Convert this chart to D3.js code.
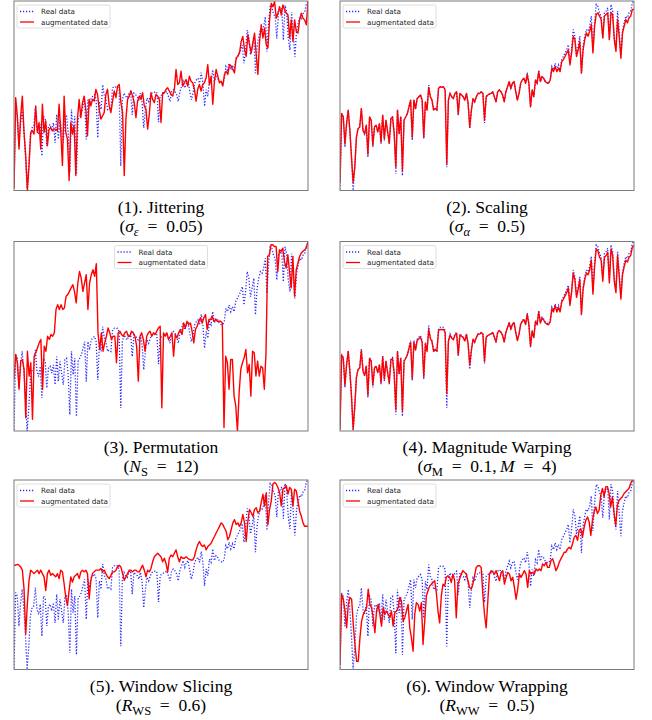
<!DOCTYPE html>
<html>
<head>
<meta charset="utf-8">
<script src="https://cdn.jsdelivr.net/npm/d3@7"></script>
<style>
  body { margin: 0; background: #fff; }
  svg { display: block; }
</style>
</head>
<body>
<svg id="chart" width="652" height="720"></svg>
<script>
'use strict';

// real series (0 = frame bottom, 100 = frame top)
var realData = [
  1.2, 40.7, 38.9, 23.2, 35.4, 42.5, 31.9, 17.9, 0.5, 12.6, 28.4, 32.8, 33.7, 43.3, 31.9, 29.3,
  34.6, 17.9, 38.9, 37.2, 23.2, 33.7, 34.6, 31.1, 35.4, 24.9, 39.8, 26.7, 37.2, 31.1, 24.9, 38.1,
  38.9, 30.2, 9.1, 42.5, 30.2, 38.9, 8.2, 37.2, 38.9, 40.7, 44.2, 47.7, 26.7, 47.7, 43.3, 48.6,
  49.5, 50.4, 47.7, 27.5, 46.8, 42.5, 55.6, 49.5, 47.7, 42.5,
  43.3, 42.5, 53.9, 54.7, 54.4, 54.7, 53.0, 12.6, 47.7, 51.2, 49.5, 48.6, 51.2, 52.1, 39.8, 51.2,
  50.4, 49.5, 47.7, 51.2, 46.0, 32.8, 42.5, 48.6, 46.8, 49.5, 51.2, 51.2, 52.1, 51.2, 35.8, 49.5,
  50.4, 50.9, 51.2, 52.1, 49.5, 46.8, 52.1, 53.0, 52.1, 50.4, 46.8, 52.1, 54.7, 57.4, 53.9, 56.5,
  57.4, 52.1, 47.7, 51.2, 56.5, 58.2, 59.1, 56.5, 62.1, 56.5, 44.2, 53.0,
  49.5, 58.2, 56.5, 63.5, 57.4, 60.0, 59.1, 57.4, 56.8, 56.5, 58.2, 65.3, 63.5, 67.0, 63.5, 66.1,
  63.5, 68.8, 70.5, 72.3, 74.0, 76.7, 67.0, 74.0, 84.6, 81.1, 71.4, 75.8, 81.1, 61.8, 75.8, 81.1,
  84.6, 83.7, 86.3, 91.6, 73.2, 88.1, 97.7, 96.8, 93.3, 91.6, 80.2, 93.3, 94.2, 96.0, 79.3, 97.7,
  94.2, 80.2, 74.0, 94.2, 82.8, 70.5, 83.7, 88.1, 91.6, 90.7, 93.3, 94.2, 98.6, 99.5
];

var jitterData = [
  0.5, 48.8, 39.1, 21.6, 39.1, 49.6, 30.4, 18.1, -0.4, 12.8, 30.4, 31.2, 29.5, 44.4, 30.4, 35.6,
  21.6, 45.3, 30.4, 36.5, 23.3, 32.1, 33.0, 31.2, 32.1, 32.1, 31.2, 45.3, 30.4, 12.8, 49.6, 30.4,
  26.8, 4.9, 35.6, 29.5, 33.9, 7.5, 37.4, 47.9, 38.2, 46.1, 49.6, 42.6, 28.6, 47.9, 44.4, 47.9,
  47.0, 53.2, 50.5, 42.6, 37.4, 39.1, 40.9, 50.5, 53.2, 44.4, 40.9, 47.0, 52.3, 48.8, 54.9, 55.8,
  46.1, 40.9, 7.5, 37.4, 47.9, 49.6, 52.3, 49.6, 46.1, 38.2, 47.0, 49.6, 47.9, 51.4, 44.4, 42.6,
  32.1, 40.0, 51.4, 47.9, 46.1, 50.5, 49.6, 47.9, 35.6, 51.4, 51.4, 53.2, 54.0, 52.3, 50.5, 49.6,
  53.2, 63.7, 55.8, 56.7, 62.8, 54.9, 56.7, 58.4, 54.9, 60.2, 57.5, 56.7, 53.2, 47.0, 53.2, 55.8,
  52.3, 55.8, 56.7, 59.3, 66.3, 55.8, 60.2, 45.3, 57.5, 63.7, 60.2, 56.7, 57.5, 54.9, 61.1, 62.8,
  61.1, 66.3, 65.4, 63.7, 61.9, 69.8, 70.7, 72.5, 78.6, 81.2, 74.2, 70.7, 82.1, 76.8, 72.5, 77.7,
  83.0, 71.6, 61.1, 78.6, 87.4, 80.4, 85.6, 76.8, 75.1, 90.0, 98.8, 97.0, 99.6, 90.9, 93.5, 97.0,
  92.6, 97.9, 95.3, 93.5, 92.6, 80.4, 90.0, 78.6, 90.0, 83.9, 83.0, 90.0, 93.5, 90.9, 90.0, 87.4,
  100
];

var scalingData = [
  4.7, 40.7, 38.9, 24.9, 35.4, 42.5, 31.9, 17.9, 4.7, 12.6, 28.4, 32.8, 33.7, 43.3, 31.9, 30.2,
  34.6, 19.6, 38.9, 37.2, 24.0, 33.7, 34.6, 31.1, 35.4, 25.8, 39.8, 27.5, 37.2, 31.1, 25.3, 38.1,
  38.9, 30.2, 12.6, 42.5, 30.2, 38.9, 10.9, 37.2, 38.9, 40.7, 44.2, 47.7, 28.4, 47.7, 43.3, 48.6,
  49.5, 50.4, 47.7, 28.4, 46.8, 42.5, 54.4, 49.5, 47.7, 42.5,
  43.3, 42.5, 53.9, 54.7, 54.4, 54.7, 53.0, 14.4, 47.7, 51.2, 49.5, 48.6, 51.2, 52.1, 40.5, 51.2,
  50.4, 49.5, 47.7, 51.2, 46.0, 33.7, 42.5, 48.6, 46.8, 49.5, 51.2, 51.2, 52.1, 51.2, 37.2, 49.5,
  50.4, 50.9, 51.2, 52.1, 49.5, 46.8, 52.1, 53.0, 52.1, 50.4, 46.8, 52.1, 54.7, 57.4, 53.9, 56.5,
  57.4, 52.1, 47.7, 51.2, 56.5, 58.2, 59.1, 56.5, 61.0, 56.5, 44.2, 53.0,
  49.5, 58.2, 56.5, 62.6, 57.4, 60.0, 59.1, 57.4, 56.8, 56.5, 58.2, 64.4, 62.6, 65.3, 62.6, 64.4,
  62.6, 67.9, 68.8, 70.5, 72.3, 74.0, 66.1, 72.3, 81.1, 79.3, 70.5, 74.0, 78.4, 61.8, 74.0, 79.3,
  82.8, 81.1, 83.7, 87.2, 72.3, 86.3, 92.5, 93.3, 91.6, 89.8, 80.2, 91.6, 92.5, 93.3, 79.3, 93.3,
  92.5, 79.3, 73.2, 89.8, 81.1, 69.6, 82.8, 86.3, 89.8, 88.1, 90.7, 91.6, 95.1, 95.1
];

var permutationData = [
  27.7, 40.9, 36.5, 22.5, 37.4, 38.2, 33.0, 7.5, 42.6, 29.5, 36.5, 6.7, 40.0, 41.8, 44.4, 47.0,
  48.8, 22.5, 45.3, 42.6, 50.5, 48.8, 51.4, 50.5, 52.3, 64.6, 67.2, 64.6, 67.2, 64.6, 65.4, 71.6,
  72.5, 74.2, 76.0, 77.7, 74.2, 68.1, 78.6, 84.7, 81.2, 74.2, 78.6, 83.0, 64.6, 78.6, 83.0, 85.6,
  82.1, 88.8,
  52.3, 43.5, 52.3, 42.6, 47.0, 50.5, 54.9, 52.3, 48.8, 50.5, 50.5, 36.5, 52.3, 53.2, 51.4, 50.5,
  52.3, 53.2, 50.5, 50.5, 53.2, 52.3, 50.5, 45.3, 26.8, 50.5, 52.3, 48.8, 42.6, 50.5, 52.3, 53.2,
  50.5, 52.3, 51.4, 53.2, 54.9, 55.8, 12.8, 52.3, 50.5, 52.3, 48.8, 50.5, 52.3, 40.0, 51.4, 49.6,
  52.3, 54.0, 51.4, 57.5, 54.9, 58.4, 56.7, 57.5, 53.2, 47.0, 54.0, 55.8, 58.4, 60.2, 57.5, 60.2,
  61.9, 54.0, 59.3, 59.3, 61.1, 58.4, 59.3, 58.4, 58.4, 58.4, 57.5,
  2.3, 40.0, 36.5, 22.5, 38.2, 38.2, 18.9, 13.7, 0.5, 20.7, 33.0, 36.5, 39.1, 43.5, 31.2, 35.6,
  18.9, 42.6, 41.8, 29.5, 37.4, 29.5, 34.7, 33.9, 22.5, 41.8,
  92.6, 93.5, 98.8, 98.8, 97.9, 97.9, 84.7, 96.1, 95.3, 97.0, 90.0, 86.5, 93.5, 84.7, 76.0, 92.6,
  71.6, 85.6, 89.1, 92.6, 94.4, 95.3, 96.1, 97.0, 100.5
];

var magWarpData = [
  1.5, 40.2, 38.5, 24.5, 35.0, 42.0, 31.8, 18.8, 1.5, 13.5, 28.6, 32.6, 33.4, 42.6, 31.7, 29.5,
  34.3, 19.5, 38.4, 36.8, 24.6, 33.4, 34.2, 31.0, 35.0, 25.8, 39.2, 27.6, 36.8, 31.0, 25.8, 37.6,
  38.4, 30.4, 11.5, 41.8, 30.6, 38.3, 10.8, 36.8, 38.4, 40.1, 43.5, 46.9, 28.0, 46.9, 42.8, 47.8,
  48.7, 49.5, 47.0, 29.0, 46.1, 42.0, 53.5, 48.8, 47.2, 42.1,
  42.9, 42.2, 53.0, 53.6, 53.4, 53.6, 52.2, 20.0, 47.2, 50.6, 49.0, 48.2, 50.6, 51.5, 40.2, 50.7,
  50.0, 49.2, 47.5, 50.9, 46.0, 35.0, 42.8, 48.5, 46.8, 49.4, 51.0, 51.1, 52.0, 51.1, 37.0, 49.5,
  50.4, 50.9, 51.2, 52.0, 49.6, 47.0, 52.0, 52.9, 52.1, 50.4, 47.0, 52.0, 54.5, 57.1, 53.7, 56.2,
  57.0, 52.0, 47.8, 51.1, 56.2, 57.8, 58.6, 56.1, 61.4, 56.1, 44.8, 52.7,
  49.3, 57.7, 56.0, 62.7, 56.9, 59.4, 58.5, 56.9, 56.3, 56.0, 57.6, 64.4, 62.7, 66.0, 62.7, 65.2,
  62.7, 67.8, 69.4, 71.1, 72.8, 75.3, 66.1, 72.8, 83.0, 79.6, 70.3, 74.5, 79.6, 61.3, 74.5, 79.6,
  83.0, 82.1, 84.6, 89.7, 72.0, 86.3, 95.6, 94.7, 91.3, 89.7, 78.7, 91.3, 92.2, 93.9, 77.9, 95.6,
  92.2, 78.7, 72.8, 92.2, 81.2, 69.4, 82.1, 86.3, 89.7, 88.8, 91.3, 92.2, 96.5, 97.4
];

var sliceData = [
  55.0, 55.0, 55.4, 55.0, 54.1, 52.4, 42.7, 18.9, 34.7, 47.1, 52.4, 51.5, 50.6, 51.5, 52.4, 50.6,
  52.4, 50.6, 48.9, 41.8, 50.6, 52.4, 49.7, 50.6, 49.7, 48.9, 50.6, 48.0, 52.4, 51.5, 45.3, 38.3,
  33.9, 41.8, 48.9, 46.2, 48.9, 49.7, 50.6, 48.0, 51.5, 52.4, 51.5, 52.4, 50.6, 37.4, 47.1, 50.6,
  51.5, 52.4, 52.4, 52.4, 53.3, 51.5, 52.4, 50.6, 48.9, 48.0, 49.7, 51.5, 51.5, 52.4, 54.1, 55.0,
  54.1, 50.6, 47.1, 48.9, 50.6, 52.4, 52.4, 51.5, 52.4, 52.4, 51.5, 51.5, 53.3, 55.0, 52.4, 48.9,
  52.4, 51.5, 53.3, 56.8, 59.4, 60.3, 61.2, 60.3, 59.4, 56.8, 58.6, 55.9, 51.5, 58.6, 60.3, 59.4,
  61.2, 63.0, 59.4, 56.8, 59.4, 58.6, 58.6, 59.4, 58.6, 58.0, 57.7, 57.7, 59.4, 63.0, 65.6, 67.4,
  65.6, 64.7, 65.6, 63.0, 64.7, 65.6, 66.5, 68.3, 70.0, 71.8, 73.5, 75.3, 77.1, 76.2, 74.4, 72.7,
  68.3, 70.0, 73.5, 77.1, 78.8, 76.2, 77.1, 75.3, 77.1, 81.5, 77.1, 67.4, 78.0, 84.1, 82.4, 80.6,
  84.1, 85.0, 82.4, 83.2, 87.7, 92.1, 85.9, 92.9, 76.2, 84.1, 88.5, 97.4, 98.2, 97.4, 95.6, 92.9,
  85.9, 94.7, 95.6, 96.5, 92.1, 95.6, 94.7, 85.9, 94.7, 93.8, 88.5, 83.2, 80.6, 77.1, 75.3, 75.3,
  75.3
];

var warpData = [
  3.0, 40.0, 37.4, 31.2, 22.4, 34.7, 38.3, 37.4, 24.2, 13.6, 4.8, 4.8, 17.1, 25.9, 29.5, 31.2,
  33.0, 42.7, 34.7, 33.0, 27.7, 19.8, 31.2, 34.7, 29.5, 23.3, 33.0, 29.5, 31.2, 29.5, 27.7, 31.2,
  23.3, 30.3, 31.2, 33.0, 38.3, 36.5, 25.9, 27.7, 31.2, 34.7, 22.4, 17.1, 10.1, 29.5, 35.6, 34.7,
  31.2, 35.6, 13.6, 25.9, 39.2, 41.8, 44.4, 45.3, 46.2, 47.1, 40.9, 31.2, 25.0, 39.2, 45.3, 44.4,
  48.9, 49.7, 48.9, 46.2, 50.6, 47.1, 27.7, 45.3, 48.0, 50.6, 52.4, 51.5, 50.6, 47.1, 43.6, 42.7,
  45.3, 49.7, 54.1, 55.0, 55.0, 54.1, 40.0, 29.5, 22.4, 36.5, 50.6, 52.4, 51.5, 50.6, 52.4, 49.7,
  47.1, 51.5, 52.4, 45.3, 48.9, 51.5, 50.6, 47.1, 48.9, 43.6, 37.4, 42.7, 50.6, 48.9, 50.6, 52.4,
  50.6, 43.6, 52.4, 50.6, 51.5, 50.6, 53.3, 52.4, 53.3, 52.4, 55.9, 55.0, 56.8, 54.1, 54.1, 57.7,
  58.6, 55.9, 52.4, 54.1, 56.8, 58.6, 60.3, 62.1, 62.1, 63.8, 64.7, 63.8, 66.5, 70.0, 70.9, 68.3,
  73.5, 74.4, 70.0, 75.3, 78.8, 80.6, 78.0, 70.9, 78.8, 83.2, 85.9, 82.4, 84.1, 92.1, 95.6, 91.2,
  96.5, 96.5, 92.9, 85.9, 91.2, 82.4, 76.2, 86.8, 89.4, 90.3, 91.2, 92.9, 93.8, 94.7, 95.6, 98.2,
  100, 100
];

var augSeries = [jitterData, scalingData, permutationData, magWarpData, sliceData, warpData];
var legendLabels = ['Real data', 'augmentated data'];
var captionTitles = ['(1). Jittering', '(2). Scaling', '(3). Permutation',
                     '(4). Magnitude Warping', '(5). Window Slicing', '(6). Window Wrapping'];
// second caption line, split into runs: n = upright, i = italic, s = subscript, si = italic subscript
var captionParams = [
  [['(', 'n'], ['σ', 'i'], ['ε', 'si'], ['\u2002=\u20020.05)', 'n']],
  [['(', 'n'], ['σ', 'i'], ['α', 'si'], ['\u2002=\u20020.5)', 'n']],
  [['(', 'n'], ['N', 'i'], ['S', 's'], ['\u2002=\u200212)', 'n']],
  [['(', 'n'], ['σ', 'i'], ['M', 's'], ['\u2002=\u20020.1,\u2009', 'n'], ['M', 'i'], ['\u2002=\u20024)', 'n']],
  [['(', 'n'], ['R', 'i'], ['WS', 's'], ['\u2002=\u20020.6)', 'n']],
  [['(', 'n'], ['R', 'i'], ['WW', 's'], ['\u2002=\u20020.5)', 'n']]
];
var legendAlign = ['left', 'left', 'center', 'left', 'left', 'left'];

var colLeft = [14, 340];
var rowTop = [1, 241.5, 480];
var panelW = 294;
var panelH = 189.5;

var svg = d3.select('#chart');

function drawLegend(g, align) {
  var boxW = 93, boxH = 23;
  var bx = (align === 'center') ? (panelW - boxW) / 2 : 3;
  var lg = g.append('g').attr('transform', 'translate(' + bx + ',4)');
  lg.append('rect')
      .attr('width', boxW).attr('height', boxH)
      .attr('rx', 2)
      .attr('fill', '#fff')
      .attr('stroke', '#d6d6d6')
      .attr('stroke-width', 0.8);
  var rows = lg.selectAll('g.row')
      .data(legendLabels)
    .enter()
    .append('g')
      .attr('class', 'row')
      .attr('transform', function(d, i) { return 'translate(0,' + (6.5 + i * 10.5) + ')'; });
  rows.append('line')
      .attr('x1', 3).attr('x2', 17)
      .attr('stroke', function(d, i) { return i === 0 ? '#2b2bff' : '#ff0000'; })
      .attr('stroke-width', 1.3)
      .attr('stroke-dasharray', function(d, i) { return i === 0 ? '1.2,1.8' : null; });
  rows.append('text')
      .attr('x', 24)
      .attr('dy', '0.35em')
      .attr('font-family', 'DejaVu Sans, sans-serif')
      .attr('font-size', 7.2)
      .attr('fill', '#222')
      .text(function(d) { return d; });
}

function drawCaption(g, k) {
  var cx = panelW / 2;
  g.append('text')
      .attr('x', cx).attr('y', panelH + 22)
      .attr('text-anchor', 'middle')
      .attr('font-family', 'Liberation Serif, Times New Roman, serif')
      .attr('font-size', 17.5)
      .attr('fill', '#000')
      .text(captionTitles[k]);
  var t = g.append('text')
      .attr('x', cx).attr('y', panelH + 41)
      .attr('text-anchor', 'middle')
      .attr('font-family', 'Liberation Serif, Times New Roman, serif')
      .attr('font-size', 17.5)
      .attr('fill', '#000');
  var low = false;
  captionParams[k].forEach(function(run) {
    var sub = run[1] === 's' || run[1] === 'si';
    var dy = 0;
    if (sub && !low) { dy = 4; low = true; }
    else if (!sub && low) { dy = -4; low = false; }
    t.append('tspan')
        .attr('dy', dy || null)
        .attr('font-style', (run[1] === 'i' || run[1] === 'si') ? 'italic' : null)
        .attr('font-size', sub ? 12.5 : null)
        .text(run[0]);
  });
}

augSeries.forEach(function(aug, k) {
  var g = svg.append('g')
      .attr('transform', 'translate(' + colLeft[k % 2] + ',' + rowTop[Math.floor(k / 2)] + ')');

  var x = d3.scaleLinear().domain([0, realData.length - 1]).range([0, panelW]);
  var xa = d3.scaleLinear().domain([0, aug.length - 1]).range([0, panelW]);
  var y = d3.scaleLinear()
      .domain(d3.extent(realData.concat(aug)))
      .range([panelH, 0]);

  g.append('rect')
      .attr('width', panelW).attr('height', panelH)
      .attr('fill', '#fff');

  var clipId = 'clip' + k;
  g.append('clipPath').attr('id', clipId)
    .append('rect').attr('width', panelW).attr('height', panelH);

  var plot = g.append('g').attr('clip-path', 'url(#' + clipId + ')');

  plot.append('path')
      .datum(realData)
      .attr('fill', 'none')
      .attr('stroke', '#2b2bff')
      .attr('stroke-width', 1.3)
      .attr('stroke-dasharray', '1.2,1.8')
      .attr('d', d3.line()
          .x(function(d, i) { return x(i); })
          .y(function(d) { return y(d); }));

  plot.append('path')
      .datum(aug)
      .attr('fill', 'none')
      .attr('stroke', '#ff0000')
      .attr('stroke-width', 1.4)
      .attr('stroke-linejoin', 'round')
      .attr('d', d3.line()
          .x(function(d, i) { return xa(i); })
          .y(function(d) { return y(d); }));

  g.append('rect')
      .attr('width', panelW).attr('height', panelH)
      .attr('fill', 'none')
      .attr('stroke', '#7a7a7a')
      .attr('stroke-width', 1);

  drawLegend(g, legendAlign[k]);
  drawCaption(g, k);
});
</script>
</body>
</html>
